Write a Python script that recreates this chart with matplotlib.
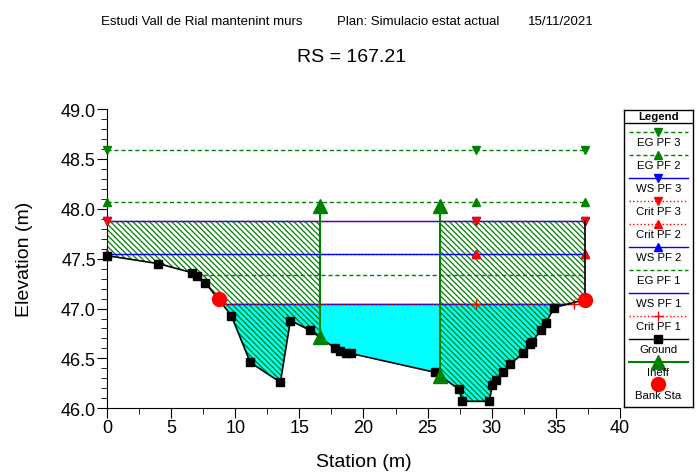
import matplotlib
matplotlib.use("Agg")
import matplotlib.pyplot as plt
import numpy as np

plt.rcParams['font.family'] = ['Liberation Sans', 'DejaVu Sans']
plt.rcParams['hatch.linewidth'] = 0.9

# ground profile (station, elevation)
sta = [0.0, 4.0, 6.62, 7.05, 7.66, 9.69, 11.17, 13.52, 14.3, 15.86, 17.8, 18.2, 18.6, 19.0,
       25.6, 27.45, 27.7, 29.8, 30.05, 30.3, 30.9, 31.4, 32.45, 32.97, 33.1, 33.83, 34.2, 34.87, 37.3]
gnd = [47.53, 47.45, 47.36, 47.33, 47.26, 46.93, 46.46, 46.26, 46.88, 46.78, 46.60, 46.57, 46.55, 46.55,
       46.36, 46.19, 46.07, 46.07, 46.23, 46.28, 46.36, 46.44, 46.55, 46.64, 46.66, 46.78, 46.85, 47.01, 47.09]

bank_sta = [8.7, 37.3]
ineff_sta = [16.6, 26.0]
ineff_elev = 48.03

# profiles
eg_pf3, eg_pf2, eg_pf1 = 48.59, 48.07, 47.34
ws_pf3, ws_pf2, ws_pf1 = 47.88, 47.55, 47.05
crit_pf3, crit_pf2, crit_pf1 = 47.88, 47.55, 47.05
mark_sta = [0.0, 28.8, 37.3]
crit1_mark_sta = [28.8, 36.4]

sta = np.array(sta)
gnd = np.array(gnd)
GREEN = '#008000'


def extent(level):
    # left part of ground falls, right part rises
    k = int(np.argmin(gnd[:10]))
    xl = np.interp(level, gnd[:k + 1][::-1], sta[:k + 1][::-1])
    j = 17
    xr = np.interp(level, gnd[j:], sta[j:])
    return xl, xr


fig = plt.figure(figsize=(6.97, 4.77), dpi=100)
ax = fig.add_axes([107 / 697, 1 - 409.3 / 477, 513 / 697, 299.3 / 477])

# water PF 1
ax.fill_between(sta, gnd, ws_pf1, where=gnd < ws_pf1, interpolate=True,
                facecolor='#00ffff', linewidth=0, zorder=1)

# ineffective flow areas
for lo, hi in [(sta[0], ineff_sta[0]), (ineff_sta[1], sta[-1])]:
    xs = np.unique(np.concatenate([[lo, hi], sta[(sta > lo) & (sta < hi)]]))
    gs = np.interp(xs, sta, gnd)
    ax.fill_between(xs, gs, ws_pf3, facecolor='none', edgecolor=GREEN,
                    hatch='\\' * 6, linewidth=0, zorder=2)

# horizontal profile lines
for lev, col, ls in [(eg_pf3, GREEN, (0, (3, 2))), (eg_pf2, GREEN, (0, (3, 2))),
                     (ws_pf3, 'blue', '-'), (crit_pf3, 'red', ':'),
                     (crit_pf2, 'red', ':'), (ws_pf2, 'blue', '-'),
                     (eg_pf1, GREEN, (0, (3, 2))), (ws_pf1, 'blue', '-'),
                     (crit_pf1, 'red', ':')]:
    xl, xr = extent(lev)
    ax.plot([xl, xr], [lev, lev], color=col, linestyle=ls, linewidth=1, zorder=3)

mk = dict(zorder=4, clip_on=False)
ax.plot(mark_sta, [eg_pf3] * 3, 'v', color=GREEN, ms=6, **mk)
ax.plot(mark_sta, [eg_pf2] * 3, '^', color=GREEN, ms=6, **mk)
ax.plot(mark_sta, [ws_pf3] * 3, 'v', color='blue', ms=6, **mk)
ax.plot(mark_sta, [ws_pf2] * 3, '^', color='blue', ms=6, **mk)
ax.plot(mark_sta, [crit_pf3] * 3, 'v', color='red', ms=6, **mk)
ax.plot(mark_sta, [crit_pf2] * 3, '^', color='red', ms=6, **mk)
ax.plot(crit1_mark_sta, [crit_pf1] * 2, '+', color='red', ms=7, mew=1, **mk)

# ground
ax.plot(sta, gnd, color='black', linewidth=1.2, marker='s', ms=5.5, zorder=5, clip_on=False)
ax.plot([sta[-1], sta[-1]], [gnd[-1], ws_pf3], color='black', linewidth=1.2, zorder=5)

# ineffective markers
for s in ineff_sta:
    g = np.interp(s, sta, gnd)
    ax.plot([s, s], [g, ineff_elev], color=GREEN, linewidth=1.5, zorder=6)
    ax.plot([s, s], [g, ineff_elev], '^', color=GREEN, ms=10, zorder=6)

# bank stations
ax.plot(bank_sta, np.interp(bank_sta, sta, gnd), 'o', color='red', ms=10, zorder=7, clip_on=False)

ax.set_xlim(0, 40)
ax.set_ylim(46.0, 49.0)
ax.set_xticks(np.arange(0, 41, 5))
ax.set_xticks(np.arange(0, 40.1, 2.5), minor=True)
ax.set_yticks(np.arange(46.0, 49.01, 0.5))
ax.set_yticks(np.arange(46.0, 49.01, 0.1), minor=True)
ax.set_yticklabels([f"{v:.1f}" for v in np.arange(46.0, 49.01, 0.5)])
ax.tick_params(which='major', direction='out', length=7, labelsize=13, pad=1)
ax.tick_params(which='minor', direction='out', length=4)
for s in ['top', 'right']:
    ax.spines[s].set_visible(False)
ax.set_xlabel("Station (m)", fontsize=14, labelpad=12)
ax.set_ylabel("Elevation (m)", fontsize=14, labelpad=20)

# header
fig.text(101 / 697, 1 - 22 / 477, "Estudi Vall de Rial mantenint murs", fontsize=9.5, va='center')
fig.text(337 / 697, 1 - 22 / 477, "Plan: Simulacio estat actual", fontsize=9.5, va='center')
fig.text(528 / 697, 1 - 22 / 477, "15/11/2021", fontsize=9.5, va='center')
fig.text(352 / 697, 1 - 58 / 477, "RS = 167.21", fontsize=14, ha='center', va='center')

# legend box
lg = fig.add_axes([624 / 697, 1 - 408 / 477, 68.7 / 697, 297 / 477])
lg.set_xlim(624, 692.7)
lg.set_ylim(408, 111)
lg.set_xticks([])
lg.set_yticks([])
for s in lg.spines.values():
    s.set_linewidth(1)
lg.text(658.3, 117.5, "Legend", fontsize=8.2, fontweight='bold', ha='center', va='center')
lg.plot([624, 692.7], [123.5, 123.5], color='black', linewidth=1)

legend_items = [
    ("EG PF 3", GREEN, (0, (3, 2)), 'v', 6),
    ("EG PF 2", GREEN, (0, (3, 2)), '^', 6),
    ("WS PF 3", 'blue', '-', 'v', 6),
    ("Crit PF 3", 'red', ':', 'v', 6),
    ("Crit PF 2", 'red', ':', '^', 6),
    ("WS PF 2", 'blue', '-', '^', 6),
    ("EG PF 1", GREEN, (0, (3, 2)), '', 6),
    ("WS PF 1", 'blue', '-', '', 6),
    ("Crit PF 1", 'red', ':', '+', 7),
    ("Ground", 'black', '-', 's', 5.5),
    ("Ineff", GREEN, '-', '^', 10),
    ("Bank Sta", 'red', 'none', 'o', 10),
]
for i, (name, col, ls, mk_, ms) in enumerate(legend_items):
    ly = 133 + 22.95 * i
    if ls != 'none':
        lg.plot([629, 687.5], [ly, ly], color=col, linestyle=ls,
                linewidth=1.5 if name == "Ineff" else 1)
    if mk_:
        lg.plot([658.3], [ly], marker=mk_, color=col, ms=ms, mew=1)
    lg.text(658.3, ly + 10.5, name, fontsize=8.2, ha='center', va='center')

fig.savefig("out.png", dpi=100)
